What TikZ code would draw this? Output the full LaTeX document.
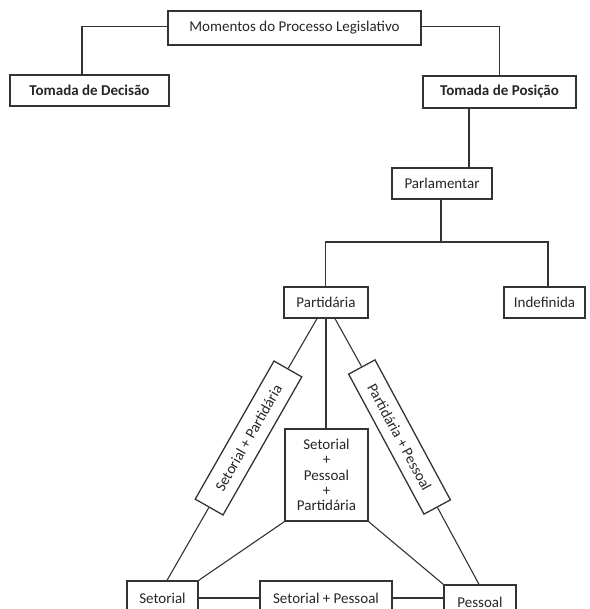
\documentclass[tikz,border=0pt]{standalone}
\usepackage{fontspec}
\setmainfont{Carlito}
\begin{document}
\begin{tikzpicture}[x=1pt,y=-1pt,
  line width=1.1pt, draw=black!80,
  every node/.style={font=\fontsize{15}{15.3}\selectfont, text=black!85},
  bx/.style={draw=black!80, line width=1.3pt, rectangle, inner sep=0pt, align=center},
  bbx/.style={bx, font=\fontsize{15}{15.3}\selectfont\bfseries},
  conn/.style={draw=black!80, line width=1.1pt}]
\useasboundingbox (0,0) rectangle (589,609);
\begin{scope}
\clip (0,0) rectangle (589,609);
% nodes
\node[bx, minimum width=253pt, minimum height=34pt] (top) at (294.5,28) {Momentos do Processo Legislativo};
\node[bbx, minimum width=159pt, minimum height=31pt] (dec) at (89.5,90.5) {Tomada de Decisão};
\node[bbx, minimum width=153pt, minimum height=32pt] (pos) at (499.5,92) {Tomada de Posição};
\node[bx, minimum width=100pt, minimum height=31pt] (parl) at (442,183.5) {Parlamentar};
\node[bx, minimum width=84pt, minimum height=31pt] (part) at (326,302.5) {Partidária};
\node[bx, minimum width=81pt, minimum height=31pt] (indef) at (544.5,302.5) {Indefinida};
\node[bx, minimum width=83pt, minimum height=92pt] (all) at (326.5,475) {Setorial\\+\\Pessoal\\+\\Partidária};
\node[bx, minimum width=159pt, minimum height=32pt, rotate=60.3] (sp) at (248.5,438) {Setorial + Partidária};
\node[bx, minimum width=159pt, minimum height=30pt, rotate=-61.7] (pp) at (399.5,437) {Partidária + Pessoal};
\node[bx, minimum width=71pt, minimum height=34pt] (set) at (162.5,598) {Setorial};
\node[bx, minimum width=132pt, minimum height=34pt] (setp) at (326,598) {Setorial + Pessoal};
\node[bx, minimum width=72pt, minimum height=34pt] (pes) at (480,602) {Pessoal};
% coordinates for connector ends
\coordinate (decin) at ([xshift=-7.5pt]dec.north);
\coordinate (parlin) at ([xshift=27pt]parl.north);
\coordinate (parlout) at ([xshift=-1pt]parl.south);
\coordinate (bar) at (441,242);
\coordinate (partin) at ([xshift=-0.5pt]part.north);
\coordinate (indefin) at ([xshift=3.5pt]indef.north);
\coordinate (pl) at ([xshift=-9pt]part.south);
\coordinate (pr) at ([xshift=9pt]part.south);
\coordinate (setin) at ([xshift=4.5pt]set.north);
\coordinate (pesin) at ([xshift=-1pt]pes.north);
% connectors
\draw[conn] (top.west |- 0,26.5) -| (decin);
\draw[conn] (top.east |- 0,26.5) -| (pos.north);
\draw[conn] (parlin |- pos.south) -- (parlin);
\draw[conn] (parlout) -- (bar);
\draw[conn] (partin) |- (bar) -| (indefin);
\draw[conn] (part.south) -- (part.south |- all.north);
\draw[conn] (pl) -- (sp.east);
\draw[conn] (sp.west) -- (setin);
\draw[conn] (pr) -- (pp.west);
\draw[conn] (pp.east) -- (pesin);
\draw[conn] (all.south west) -- (set.north east);
\draw[conn] (all.south east) -- (pes.north west);
\draw[conn] (set.east) -- (setp.west);
\draw[conn] (setp.east) -- (setp.east -| pes.west);
\end{scope}
\end{tikzpicture}
\end{document}
